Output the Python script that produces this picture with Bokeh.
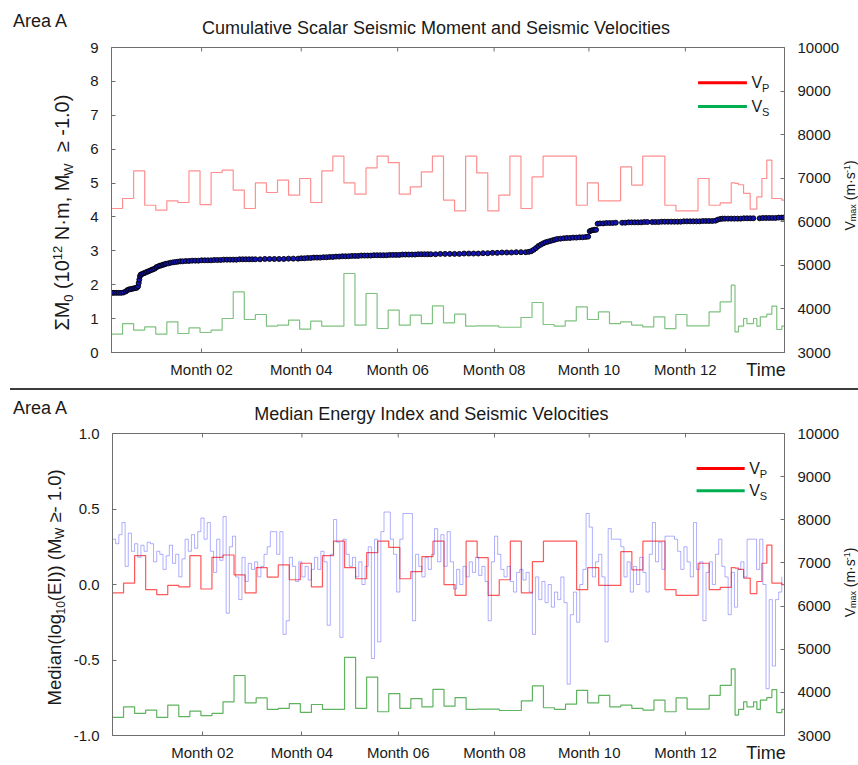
import math
from bokeh.plotting import figure
from bokeh.models import Range1d, LinearAxis, FixedTicker, Label, Spacer, PrintfTickFormatter
from bokeh.layouts import column, row
from bokeh.embed import file_html
from bokeh.resources import INLINE

# ------------------------------------------------------------------ data
month_ticks = [57, 120, 181, 242, 302, 363]
month_labels = ["Month 02", "Month 04", "Month 06", "Month 08", "Month 10", "Month 12"]
x_end = 425.7
time_label_day = 414

# velocity bins (days): weekly, then shorter bins at the end
vel_edges = [0, 7, 14, 21, 28, 35, 42, 49, 56, 63, 70, 77, 84, 91, 98, 105, 112, 119, 126, 133,
             140, 147, 154, 161, 168, 175, 182, 189, 196, 203, 210, 217, 224, 231, 238, 245, 252,
             259, 266, 273, 280, 287, 294, 301, 308, 315, 322, 329, 336, 343, 350, 357, 364, 371,
             378, 385, 392, 394.4, 396.6, 399.8, 401.9, 404.0, 406.1, 408.2, 410.4, 411.4, 414.5,
             417.7, 420.8, 424.0, 425.7]
vp_values = [6305, 6534, 7168, 6380, 6266, 6480, 6443, 7168, 6396, 7131,
             7184, 6725, 6305, 6892, 6672, 6954, 6610, 6993, 6443, 7168,
             7505, 6892, 6633, 7237, 7505, 7360, 6633, 6800, 7145, 7505,
             6495, 6250, 7505, 7122, 6250, 6610, 7505, 6305, 7030, 7505,
             7505, 7505, 6380, 6892, 6480, 6480, 7260, 6840, 7505, 7505,
             6380, 6250, 6250, 6993, 6380, 6434,
             6892, 6880, 6850, 6650, 6650, 6290, 6290, 6570, 6570, 6993, 7413, 6534, 6534, 6495]
vs_values = [3420, 3665, 3512, 3588, 3420, 3703, 3436, 3565, 3459, 3512,
             3780, 4391, 3757, 3872, 3604, 3627, 3741, 3535, 3718, 3604,
             3604, 4813, 3627, 4354, 3551, 3971, 3627, 3856, 3665, 4070,
             3680, 3879, 3604, 3610, 3610, 3580, 3580, 3803, 4148, 3643,
             3604, 3726, 4047, 3757, 3932, 3665, 3703, 3627, 3590, 3818,
             3550, 3872, 3610, 3610, 3932, 4161,
             4545, 3473, 3604, 3780, 3665, 3665, 3780, 3604, 3818, 3818, 3879, 4063, 3528, 3604]
vel_ticks = [3000, 4000, 5000, 6000, 7000, 8000, 9000, 10000]

# cumulative scalar seismic moment (10^12 N.m)
m0_days = [0.2, 1.5, 3, 4.5, 6, 7.5, 9, 10, 11, 12,
           13, 14, 15, 16, 16.8, 17.2, 17.6, 18, 18.5, 19.5,
           20.5, 21.5, 22.5, 23.5, 24.5, 25.5, 26.5, 27.5, 28.5, 29.5,
           30.5, 31.5, 32.5, 33.5, 34.5, 36, 37.5, 39, 40.5, 42,
           43.5, 45, 47, 49, 51, 53, 55, 57, 59, 61,
           63, 65, 67, 69, 71, 73, 75, 77, 79, 81,
           83, 85, 87, 89, 91, 94, 97, 100, 103, 106,
           109, 112, 115, 118, 120, 122, 124, 126, 128, 130,
           132, 134, 136, 138, 140, 142, 144, 146, 148, 150,
           152, 154, 156, 158, 160, 162, 164, 166, 168, 170,
           172, 174, 176, 178, 180, 182, 184, 186, 188, 190,
           192, 194, 196, 198, 200, 202, 205, 208, 211, 214,
           217, 220, 223, 226, 229, 232, 235, 238, 241, 244,
           247, 250, 253, 256, 259, 262, 264, 265.5, 267, 268.5,
           270, 271.5, 273, 274.5, 276, 277.5, 279, 280.5, 282, 284,
           286, 288, 290, 292, 294, 296, 298, 300, 301.5, 302.5,
           303.5, 304.5, 305.5, 306.5, 307.5, 309, 311, 313, 315, 317,
           319, 323, 325, 327, 329, 331, 333, 335, 337, 339,
           342, 344, 346, 348, 350, 352, 354, 356, 358, 360,
           362, 364, 366, 368, 370, 372, 374, 376, 378, 380,
           382, 383.5, 385, 386.5, 388, 390, 392, 394, 396, 398,
           400, 402, 404, 406, 410, 412, 414, 416, 418, 420,
           422, 424, 425.3]
m0_values = [1.76, 1.76, 1.76, 1.76, 1.76, 1.77, 1.80, 1.84, 1.86, 1.87,
             1.88, 1.89, 1.90, 1.91, 1.95, 2.05, 2.15, 2.25, 2.30, 2.32,
             2.34, 2.36, 2.38, 2.40, 2.42, 2.44, 2.46, 2.48, 2.52, 2.54,
             2.56, 2.57, 2.59, 2.60, 2.62, 2.63, 2.65, 2.66, 2.67, 2.68,
             2.69, 2.69, 2.70, 2.70, 2.71, 2.71, 2.71, 2.72, 2.72, 2.72,
             2.72, 2.73, 2.73, 2.73, 2.74, 2.74, 2.74, 2.74, 2.74, 2.75,
             2.75, 2.75, 2.75, 2.75, 2.75, 2.75, 2.76, 2.76, 2.76, 2.76,
             2.76, 2.77, 2.77, 2.77, 2.78, 2.78, 2.79, 2.79, 2.80, 2.80,
             2.80, 2.81, 2.81, 2.82, 2.82, 2.83, 2.83, 2.84, 2.84, 2.84,
             2.85, 2.85, 2.85, 2.86, 2.86, 2.86, 2.86, 2.87, 2.87, 2.87,
             2.87, 2.87, 2.88, 2.88, 2.88, 2.88, 2.89, 2.89, 2.89, 2.89,
             2.89, 2.90, 2.90, 2.90, 2.90, 2.90, 2.90, 2.91, 2.91, 2.91,
             2.91, 2.91, 2.92, 2.92, 2.92, 2.92, 2.93, 2.93, 2.94, 2.94,
             2.95, 2.95, 2.95, 2.96, 2.96, 2.96, 2.97, 2.99, 3.03, 3.08,
             3.14, 3.18, 3.22, 3.25, 3.27, 3.29, 3.31, 3.33, 3.35, 3.36,
             3.37, 3.38, 3.38, 3.39, 3.39, 3.40, 3.40, 3.41, 3.42, 3.58,
             3.60, 3.61, 3.62, 3.62, 3.80, 3.81, 3.81, 3.82, 3.82, 3.82,
             3.83, 3.83, 3.83, 3.84, 3.84, 3.84, 3.84, 3.84, 3.85, 3.85,
             3.85, 3.85, 3.85, 3.86, 3.86, 3.86, 3.86, 3.86, 3.86, 3.86,
             3.87, 3.87, 3.87, 3.87, 3.87, 3.87, 3.88, 3.88, 3.88, 3.88,
             3.89, 3.92, 3.94, 3.95, 3.95, 3.95, 3.95, 3.95, 3.95, 3.95,
             3.96, 3.96, 3.96, 3.96, 3.96, 3.97, 3.97, 3.97, 3.97, 3.97,
             3.98, 3.98, 3.98]
m0_ticks = [0, 1, 2, 3, 4, 5, 6, 7, 8, 9]

# median energy index, sampled every 2 days
ei_days = list(range(0, 425, 2))
ei_values = [0.30, 0.27, 0.33, 0.41, 0.12, 0.34, 0.22, 0.27, 0.18, 0.26,
             0.22, 0.28, 0.27, 0.15, 0.22, 0.20, 0.10, 0.19, 0.26, 0.14,
             0.20, 0.05, 0.17, 0.30, 0.22, 0.33, 0.24, 0.35, 0.44, 0.30,
             0.41, 0.22, 0.08, 0.30, 0.16, 0.45, -0.19, 0.25, 0.32, 0.05,
             -0.10, 0.18, 0.02, 0.14, 0.10, 0.15, 0.05, 0.12, 0.20, 0.25,
             0.35, 0.35, 0.20, 0.35, -0.33, -0.24, 0.18, 0.12, 0.02, 0.15,
             0.05, 0.12, 0.03, 0.10, 0.18, 0.10, 0.22, 0.15, -0.27, 0.20,
             0.43, 0.28, -0.35, 0.30, 0.20, 0.12, 0.18, 0.05, 0.15, 0.00,
             0.12, 0.25, -0.49, 0.30, -0.38, 0.35, 0.48, 0.48, 0.30, 0.20,
             -0.05, 0.30, 0.47, 0.47, 0.47, -0.24, 0.20, 0.12, 0.05, 0.18,
             0.10, 0.20, 0.37, 0.15, 0.33, 0.12, 0.35, 0.15, -0.03, 0.10,
             0.00, 0.12, 0.05, 0.15, 0.08, 0.18, 0.06, 0.12, 0.02, -0.24,
             0.15, 0.32, 0.20, 0.10, 0.05, 0.12, 0.02, -0.05, 0.08, 0.10,
             0.03, 0.08, -0.05, -0.33, 0.05, -0.10, 0.02, -0.12, 0.00, -0.15,
             -0.05, -0.10, 0.05, -0.12, -0.66, -0.20, -0.05, -0.25, 0.00, 0.10,
             0.47, 0.38, 0.05, 0.15, 0.20, 0.05, -0.38, 0.37, 0.30, 0.30,
             0.30, 0.25, 0.05, 0.15, -0.05, 0.12, 0.00, 0.18, 0.08, -0.05,
             0.20, 0.41, 0.15, 0.28, 0.10, 0.32, 0.32, 0.32, 0.30, 0.22,
             0.10, 0.25, 0.15, 0.05, 0.41, 0.10, 0.15, -0.24, 0.08, 0.15,
             0.00, 0.20, 0.30, 0.12, 0.05, -0.20, 0.08, -0.15, 0.10, 0.15,
             0.05, 0.30, 0.30, 0.30, 0.10, 0.30, 0.00, -0.69, -0.10, -0.54,
             -0.10, -0.05, 0.05]
ei_ticks = [-1.0, -0.5, 0.0, 0.5, 1.0]

# ------------------------------------------------------------------ style / layout
FONT = "Liberation Sans"
TXT = "#1a1a1a"
AXC = "#6e6e6e"
WIDTH = 858
FL, FR = 111, 786          # frame left / right on the page
RSTRIP = 16                # right strip (right axis title)
MAIN_RIGHT = WIDTH - RSTRIP
MID = 0.35                 # baseline -> middle of text box, in em
BT = 9                     # top border of the main panels

CW = {c: 556 for c in "0123456789"}
CW.update({' ': 278, '(': 333, ')': 333, ',': 278, '-': 333, '.': 278, '\u00b7': 278,
           '\u2265': 549, '\u03a3': 600,
           'A': 667, 'B': 667, 'C': 722, 'D': 722, 'E': 667, 'F': 611, 'G': 778, 'H': 722,
           'I': 278, 'J': 500, 'K': 667, 'L': 556, 'M': 833, 'N': 722, 'O': 778, 'P': 667,
           'Q': 778, 'R': 722, 'S': 667, 'T': 611, 'U': 722, 'V': 667, 'W': 944, 'X': 667,
           'Y': 667, 'Z': 611, 'a': 556, 'b': 556, 'c': 500, 'd': 556, 'e': 556, 'f': 278,
           'g': 556, 'h': 556, 'i': 222, 'j': 222, 'k': 500, 'l': 222, 'm': 833, 'n': 556,
           'o': 556, 'p': 556, 'q': 556, 'r': 333, 's': 500, 't': 278, 'u': 556, 'v': 500,
           'w': 722, 'x': 500, 'y': 500, 'z': 500})


def tw(t, size):
    return sum(CW.get(c, 556) for c in t) * size / 1000.0


def ident(v):
    return v


class Conv:
    """page pixel -> data coordinates of a main panel"""
    def __init__(self, ft, fb, yr):
        self.ft, self.fb, self.yr = ft, fb, yr

    def x(self, cx):
        return (cx - FL) / (FR - FL) * x_end

    def y(self, cy):
        y0, y1 = self.yr
        return y0 + (self.fb - cy) / (self.fb - self.ft) * (y1 - y0)


def put(f, px, py, text, size, align="left", rotated=False, mx=ident, my=ident):
    """(px, py) is the baseline point in page pixels (y downwards)."""
    if rotated:
        cx, cy, ang = px - MID * size, py, math.pi / 2
    else:
        cx, cy, ang = px, py - MID * size, 0.0
    f.add_layout(Label(x=mx(cx), y=my(cy), text=text, angle=ang, text_font=FONT,
                       text_font_size=f"{size}px", text_color=TXT, text_align=align,
                       text_baseline="middle"))


def rot_text(f, pieces, xb, ystart):
    y = ystart
    for txt, size, shift in pieces:
        core = txt.lstrip(" ")
        y -= tw(txt[:len(txt) - len(core)], size)
        put(f, xb + shift, y, core, size, rotated=True)
        y -= tw(core, size)


def strip(w, h, xr, yr, bt=0, bb=0):
    """text-only panel; its data coordinates are page pixels"""
    f = figure(width=w, height=h, x_range=Range1d(*xr), y_range=Range1d(*yr),
               x_axis_type=None, y_axis_type=None, title=None,
               output_backend="svg", toolbar_location=None,
               min_border_left=0, min_border_right=0, min_border_top=bt, min_border_bottom=bb)
    f.outline_line_color = None
    f.background_fill_color = "white"
    f.border_fill_color = "white"
    return f


def style_axis(ax, ticks, standoff):
    ax.ticker = FixedTicker(ticks=ticks)
    ax.axis_line_color = AXC
    ax.major_tick_line_color = AXC
    ax.major_tick_in = 4
    ax.major_tick_out = 0
    ax.minor_tick_line_color = None
    ax.major_label_text_font = FONT
    ax.major_label_text_font_size = "15px"
    ax.major_label_text_color = TXT
    ax.major_label_standoff = standoff
    ax.axis_label = None


def make_main(width, height, fh, yr, yticks, xstand, tstand):
    p = figure(width=width, height=height, title=None,
               x_range=Range1d(0, x_end), y_range=Range1d(*yr),
               output_backend="svg", toolbar_location=None,
               min_border_left=FL - (WIDTH - width - RSTRIP), min_border_right=MAIN_RIGHT - FR,
               min_border_top=BT, min_border_bottom=height - BT - fh)
    p.extra_y_ranges = {"v": Range1d(vel_ticks[0], vel_ticks[-1])}
    p.grid.visible = False
    p.outline_line_color = AXC
    p.background_fill_color = "white"
    p.border_fill_color = "white"
    style_axis(p.xaxis[0], month_ticks, xstand)
    p.xaxis[0].major_label_overrides = dict(zip(month_ticks, month_labels))
    style_axis(p.yaxis[0], yticks, 13)
    right = LinearAxis(y_range_name="v")
    style_axis(right, vel_ticks, 13)
    p.add_layout(right, "right")
    # "Time" caption at the right end of the time axis
    tax = LinearAxis(ticker=FixedTicker(ticks=[time_label_day]),
                     major_label_overrides={time_label_day: "Time"})
    tax.axis_line_color = None
    tax.major_tick_line_color = None
    tax.minor_tick_line_color = None
    tax.major_tick_in = 0
    tax.major_tick_out = 0
    tax.major_label_text_font = FONT
    tax.major_label_text_font_size = "18px"
    tax.major_label_text_color = TXT
    tax.major_label_standoff = tstand
    p.add_layout(tax, "below")
    # mirrored inward ticks on the top edge
    dy = 4.0 * (yr[1] - yr[0]) / fh
    p.segment(x0=month_ticks, y0=[yr[1]] * len(month_ticks), x1=month_ticks,
              y1=[yr[1] - dy] * len(month_ticks), line_color=AXC, line_width=1)
    return p


def add_velocities(p, vp_alpha, vs_alpha):
    p.step(vel_edges, vp_values + [vp_values[-1]], mode="after", y_range_name="v",
           line_color="#ff2020", line_alpha=vp_alpha, line_width=1.2)
    p.step(vel_edges, vs_values + [vs_values[-1]], mode="after", y_range_name="v",
           line_color="#2a9a2a", line_alpha=vs_alpha, line_width=1.2)


def add_legend(p, cv, yred, ygreen, x0, x1):
    for yy, col, sub in ((yred, "#ff0000", "P"), (ygreen, "#00b050", "S")):
        p.segment(x0=[cv.x(x0)], y0=[cv.y(yy)], x1=[cv.x(x1)], y1=[cv.y(yy)],
                  line_color=col, line_width=3)
        put(p, x1 + 4.5, yy + 5.5, "V", 16, mx=cv.x, my=cv.y)
        put(p, x1 + 4.5 + tw("V", 16), yy + 9, sub, 11, mx=cv.x, my=cv.y)


VMAX_PIECES = [("V", 14, 0), ("max", 9, 2), (" (m\u00b7s", 14, 0), ("-1", 9, -4), (")", 14, 0)]

# ------------------------------------------------------------------ top panel
FT1, FB1 = 47, 352
HEAD1 = FT1 - BT
ROW1 = 388 - HEAD1
BB1 = ROW1 - BT - (FB1 - FT1)
L1 = 76
head1 = strip(WIDTH, HEAD1, (0, WIDTH), (HEAD1, 0))
put(head1, 12.5, 26.7, "Area A", 18)
put(head1, 435.5, 34.2, "Cumulative Scalar Seismic Moment and Seismic Velocities", 18, align="center")

left1 = strip(L1, ROW1, (0, L1), (FB1, FT1), BT, BB1)
rot_text(left1, [("\u03a3M", 20, 0), ("0", 13, 4), (" (10", 20, 0), ("12", 13, -7),
                 (" N\u00b7m, M", 20, 0), ("W", 13, 4), ("  \u2265 -1.0)", 20, 0)],
         68.5, 330)
right1 = strip(RSTRIP, ROW1, (MAIN_RIGHT, WIDTH), (FB1, FT1), BT, BB1)
rot_text(right1, VMAX_PIECES, 854, 230)

p1 = make_main(WIDTH - L1 - RSTRIP, ROW1, FB1 - FT1, (m0_ticks[0], m0_ticks[-1]), m0_ticks, 8, -21)
cv1 = Conv(FT1, FB1, (m0_ticks[0], m0_ticks[-1]))
add_velocities(p1, 0.5, 0.6)
p1.scatter(m0_days, m0_values, marker="circle", size=5, fill_color="#1414b4",
           line_color="#000000", line_width=0.9)
add_legend(p1, cv1, 82.3, 106, 699.3, 748.3)

# ------------------------------------------------------------------ bottom panel
TOP2 = 390
FT2, FB2 = 433, 737
HEAD2 = FT2 - BT - TOP2
ROW2 = 765 - TOP2 - HEAD2
BB2 = ROW2 - BT - (FB2 - FT2)
L2 = 70
head2 = strip(WIDTH, HEAD2, (0, WIDTH), (TOP2 + HEAD2, TOP2))
put(head2, 12.5, 414, "Area A", 18)
put(head2, 430.8, 420.2, "Median Energy Index and Seismic Velocities", 18, align="center")

left2 = strip(L2, ROW2, (0, L2), (FB2, FT2), BT, BB2)
rot_text(left2, [("Median(log", 18.5, 0), ("10", 12, 4), ("(EI)) (M", 18.5, 0), ("W", 12, 4),
                 (" \u2265- 1.0)", 18.5, 0)], 60, 706.7)
right2 = strip(RSTRIP, ROW2, (MAIN_RIGHT, WIDTH), (FB2, FT2), BT, BB2)
rot_text(right2, VMAX_PIECES, 854, 618)

p2 = make_main(WIDTH - L2 - RSTRIP, ROW2, FB2 - FT2, (ei_ticks[0], ei_ticks[-1]), ei_ticks, 8, -21)
p2.yaxis[0].formatter = PrintfTickFormatter(format="%.1f")
cv2 = Conv(FT2, FB2, (ei_ticks[0], ei_ticks[-1]))
add_velocities(p2, 0.75, 0.75)
p2.step(ei_days, ei_values, mode="after", line_color="#3030ff", line_alpha=0.38, line_width=1)
add_legend(p2, cv2, 78.3 + TOP2, 100.7 + TOP2, 697.7, 746)

sep = Spacer(width=WIDTH - 10, height=2, margin=(0, 0, 0, 10),
             styles={"background-color": "#3c3c3c"})

layout = column(head1, row(left1, p1, right1, spacing=0), sep,
                head2, row(left2, p2, right2, spacing=0), spacing=0)
open("out.html", "w").write(file_html(layout, INLINE))
